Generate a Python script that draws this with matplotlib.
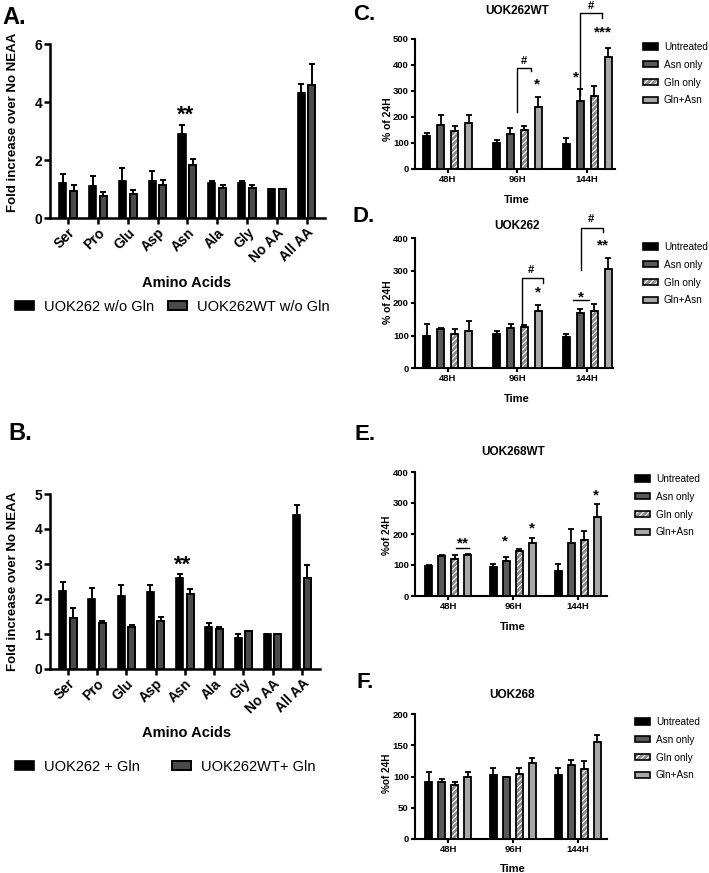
import numpy as np
import matplotlib
matplotlib.use('Agg')
import matplotlib.pyplot as plt
from matplotlib.patches import Patch
from matplotlib.legend_handler import HandlerTuple

plt.rcParams['font.family'] = ['Liberation Sans', 'DejaVu Sans']
plt.rcParams['font.weight'] = 'bold'
plt.rcParams['hatch.linewidth'] = 0.8

# ---- data: panels A / B (fold increase over No NEAA)
amino = ['Ser', 'Pro', 'Glu', 'Asp', 'Asn', 'Ala', 'Gly', 'No AA', 'All AA']
a_262 = [1.21, 1.09, 1.29, 1.29, 2.90, 1.20, 1.20, 1.00, 4.31]
a_262_err = [0.31, 0.35, 0.43, 0.32, 0.32, 0.09, 0.09, 0.0, 0.31]
a_wt = [0.94, 0.75, 0.84, 1.13, 1.84, 1.03, 1.03, 1.00, 4.60]
a_wt_err = [0.21, 0.14, 0.11, 0.19, 0.21, 0.10, 0.12, 0.0, 0.71]
b_262 = [2.22, 2.00, 2.10, 2.20, 2.59, 1.20, 0.90, 1.00, 4.39]
b_262_err = [0.28, 0.31, 0.31, 0.21, 0.12, 0.11, 0.10, 0.0, 0.31]
b_wt = [1.46, 1.31, 1.19, 1.36, 2.15, 1.15, 1.10, 1.00, 2.60]
b_wt_err = [0.28, 0.05, 0.08, 0.14, 0.15, 0.04, 0.0, 0.0, 0.38]

# ---- data: panels C-F (% of 24H), rows = treatments, cols = times
treat = ['Untreated', 'Asn only', 'Gln only', 'Gln+Asn']
times = ['48H', '96H', '144H']
c_mean = [[128, 100, 96], [169, 135, 260], [145, 149, 279], [177, 238, 431]]
c_err = [[10, 10, 22], [37, 23, 48], [22, 18, 41], [29, 38, 34]]
d_mean = [[98, 104, 96], [120, 124, 168], [106, 127, 176], [113, 175, 304]]
d_err = [[36, 10, 9], [4, 10, 15], [13, 5, 20], [32, 19, 34]]
e_mean = [[97, 94, 81], [128, 112, 171], [120, 144, 180], [133, 172, 255]]
e_err = [[4, 10, 21], [3, 14, 46], [13, 9, 30], [4, 16, 43]]
f_mean = [[92, 103, 102], [91, 99, 119], [86, 104, 112], [99, 121, 156]]
f_err = [[15, 10, 12], [5, 1, 7], [6, 10, 13], [9, 8, 10]]

W, H = 709, 873
fig = plt.figure(figsize=(W / 100, H / 100), dpi=100)


def box(l, t, r, b):
    return [l / W, 1 - b / H, (r - l) / W, (b - t) / H]


def ftxt(x, y, s, **kw):
    kw.setdefault('ha', 'center')
    kw.setdefault('va', 'center')
    fig.text(x / W, 1 - y / H, s, **kw)


def style(ax, fs, lw=1.6, tl=4):
    for s in ['top', 'right']:
        ax.spines[s].set_visible(False)
    for s in ['left', 'bottom']:
        ax.spines[s].set_linewidth(lw)
    ax.tick_params(width=lw, length=tl, labelsize=fs, pad=1.5)


def mark(ax, x, y, s, fs):
    # star / hash glyphs sit high in the line box, shift them down a bit
    off = -0.33 * fs if '*' in s else -0.1 * fs
    ax.annotate(s, (x, y), xytext=(0, off), textcoords='offset points',
                ha='center', va='center', fontsize=fs, annotation_clip=False)


# ---------------- panels A and B
def aa_panel(bx, v1, e1, v2, e2, ymax, lab1, lab2, leg_y, leg_x2, star_y):
    ax = fig.add_axes(box(*bx))
    x = np.arange(len(amino))
    ax.bar(x - 0.18, v1, 0.24, color='black', edgecolor='black', lw=1.2, zorder=3)
    ax.bar(x + 0.18, v2, 0.24, color='#4a4a4a', edgecolor='black', lw=1.4, zorder=3)
    ax.errorbar(x - 0.18, v1, yerr=[np.zeros(9), e1], fmt='none', ecolor='black',
                elinewidth=1.4, capsize=2.3, capthick=1.4, zorder=4)
    ax.errorbar(x + 0.18, v2, yerr=[np.zeros(9), e2], fmt='none', ecolor='black',
                elinewidth=1.4, capsize=2.3, capthick=1.4, zorder=4)
    ax.set_xlim(-0.61, 8.62)
    ax.set_ylim(0, ymax)
    style(ax, 10, lw=1.8, tl=4)
    ax.set_yticks(range(0, ymax + 1, 2 if ymax == 6 else 1))
    ax.set_xticks(x)
    ax.set_xticklabels(amino, rotation=45, ha='right', rotation_mode='anchor')
    mark(ax, 4 - 0.06, star_y, '**', 16)
    h1 = Patch(facecolor='black', edgecolor='black', lw=1.2)
    h2 = Patch(facecolor='#4a4a4a', edgecolor='black', lw=1.4)
    for h, lab, lx in [(h1, lab1, 15), (h2, lab2, leg_x2)]:
        fig.legend([h], [lab], loc='center left', bbox_to_anchor=(lx / W, 1 - leg_y / H),
                   frameon=False, prop=dict(weight='normal', size=10.5), handlelength=1.3,
                   handleheight=0.55, handletextpad=0.7, borderpad=0, borderaxespad=0)
    return ax


aa_panel((50, 44, 325, 218), a_262, a_262_err, a_wt, a_wt_err, 6,
         'UOK262 w/o Gln', 'UOK262WT w/o Gln', 307, 168, 3.8)
ftxt(187, 283, 'Amino Acids', fontsize=10.5)
ftxt(13, 122, 'Fold increase over No NEAA', rotation=90, fontsize=9.5)
ftxt(2, 17, 'A.', ha='left', fontsize=17)

aa_panel((50, 494, 320, 669), b_262, b_262_err, b_wt, b_wt_err, 5,
         'UOK262 + Gln', 'UOK262WT+ Gln', 767, 172, 3.17)
ftxt(187, 733, 'Amino Acids', fontsize=10.5)
ftxt(13, 581, 'Fold increase over No NEAA', rotation=90, fontsize=9.5)
ftxt(8, 433, 'B.', ha='left', fontsize=17)

# ---------------- panels C-F
face = ['black', '#5a5a5a', '#8a8a8a', '#a8a8a8']
offs = [-0.3, -0.1, 0.1, 0.3]


def time_panel(bx, xlim, means, errs, ymax, ystep, leg_x, leg_y):
    ax = fig.add_axes(box(*bx))
    x = np.arange(3)
    for i in range(4):
        xi = x + offs[i]
        if i == 2:
            ax.bar(xi, means[i], 0.1, color=face[i], edgecolor='white', hatch='//////',
                   lw=0, zorder=2)
            ax.bar(xi, means[i], 0.1, fill=False, edgecolor='black', lw=1.3, zorder=3)
        else:
            ax.bar(xi, means[i], 0.1, color=face[i], edgecolor='black', lw=1.3, zorder=3)
        ax.errorbar(xi, means[i], yerr=[np.zeros(3), errs[i]], fmt='none', ecolor='black',
                    elinewidth=1.3, capsize=2, capthick=1.3, zorder=4)
    ax.set_xlim(*xlim)
    ax.set_ylim(0, ymax)
    style(ax, 6.8, lw=1.5, tl=3)
    ax.set_yticks(np.arange(0, ymax + 1, ystep))
    ax.set_xticks(x)
    ax.set_xticklabels(times)
    handles = [Patch(facecolor=face[0], edgecolor='black', lw=1.2),
               Patch(facecolor=face[1], edgecolor='black', lw=1.2),
               (Patch(facecolor=face[2], edgecolor='white', hatch='//////', lw=0),
                Patch(fill=False, edgecolor='black', lw=1.2)),
               Patch(facecolor=face[3], edgecolor='black', lw=1.2)]
    fig.legend(handles, treat, loc='upper left', bbox_to_anchor=(leg_x / W, 1 - leg_y / H),
               frameon=False, prop=dict(weight='normal', size=7.2), handlelength=1.5,
               handleheight=0.6, handletextpad=0.6, labelspacing=0.78, borderpad=0,
               borderaxespad=0, handler_map={tuple: HandlerTuple(ndivide=1)})
    return ax


def bracket(ax, x1, x2, yb1, yt, yb2):
    ax.plot([x1, x1, x2, x2], [yb1, yt, yt, yb2], color='black', lw=1.0, clip_on=False)


def hline(ax, x1, x2, y):
    ax.plot([x1, x2], [y, y], color='black', lw=1.0, clip_on=False)


# C
axC = time_panel((415, 39, 615, 169), (-0.47, 2.4), c_mean, c_err, 500, 100, 643, 42)
bracket(axC, 1.0, 1.2, 218, 388, 376)
mark(axC, 1.1, 418, '#', 8)
bracket(axC, 1.9, 2.21, 286, 600, 581)
mark(axC, 2.05, 632, '#', 8)
mark(axC, 1.28, 346, '*', 11)
mark(axC, 1.84, 373, '*', 11)
mark(axC, 2.23, 546, '***', 11)
ftxt(517, 11, 'UOK262WT', fontsize=8.5)
ftxt(517, 200, 'Time', fontsize=8)
ftxt(388, 119, '% of 24H', rotation=90, fontsize=7.5)
ftxt(353, 15, 'C.', ha='left', fontsize=16)

# D
axD = time_panel((415, 238, 613, 368), (-0.47, 2.37), d_mean, d_err, 400, 100, 643, 242)
bracket(axD, 1.06, 1.36, 132, 277, 262)
mark(axD, 1.19, 305, '#', 8)
mark(axD, 1.29, 249, '*', 11)
hline(axD, 1.8, 2.03, 209)
mark(axD, 1.91, 234, '*', 11)
bracket(axD, 1.91, 2.23, 302, 431, 418)
mark(axD, 2.05, 462, '#', 8)
mark(axD, 2.23, 394, '**', 11)
ftxt(517, 226, 'UOK262', fontsize=8.5)
ftxt(517, 399, 'Time', fontsize=8)
ftxt(388, 302, '% of 24H', rotation=90, fontsize=7.5)
ftxt(353, 217, 'D.', ha='left', fontsize=16)

# E
axE = time_panel((415, 472, 607, 596), (-0.51, 2.45), e_mean, e_err, 400, 100, 635, 474)
hline(axE, 0.12, 0.32, 155)
mark(axE, 0.23, 185, '**', 11)
mark(axE, 0.88, 192, '*', 11)
mark(axE, 1.3, 233, '*', 11)
mark(axE, 2.28, 339, '*', 11)
ftxt(513, 452, 'UOK268WT', fontsize=8.5)
ftxt(513, 627, 'Time', fontsize=8)
ftxt(387, 535, '%of 24H', rotation=90, fontsize=7.2)
ftxt(355, 434, 'E.', ha='left', fontsize=16)

# F
axF = time_panel((415, 714, 607, 839), (-0.51, 2.45), f_mean, f_err, 200, 50, 635, 717)
ftxt(512, 695, 'UOK268', fontsize=8.5)
ftxt(513, 869, 'Time', fontsize=8)
ftxt(387, 773, '%of 24H', rotation=90, fontsize=7.2)
ftxt(357, 682, 'F.', ha='left', fontsize=16)

fig.savefig('out.png', dpi=100)
